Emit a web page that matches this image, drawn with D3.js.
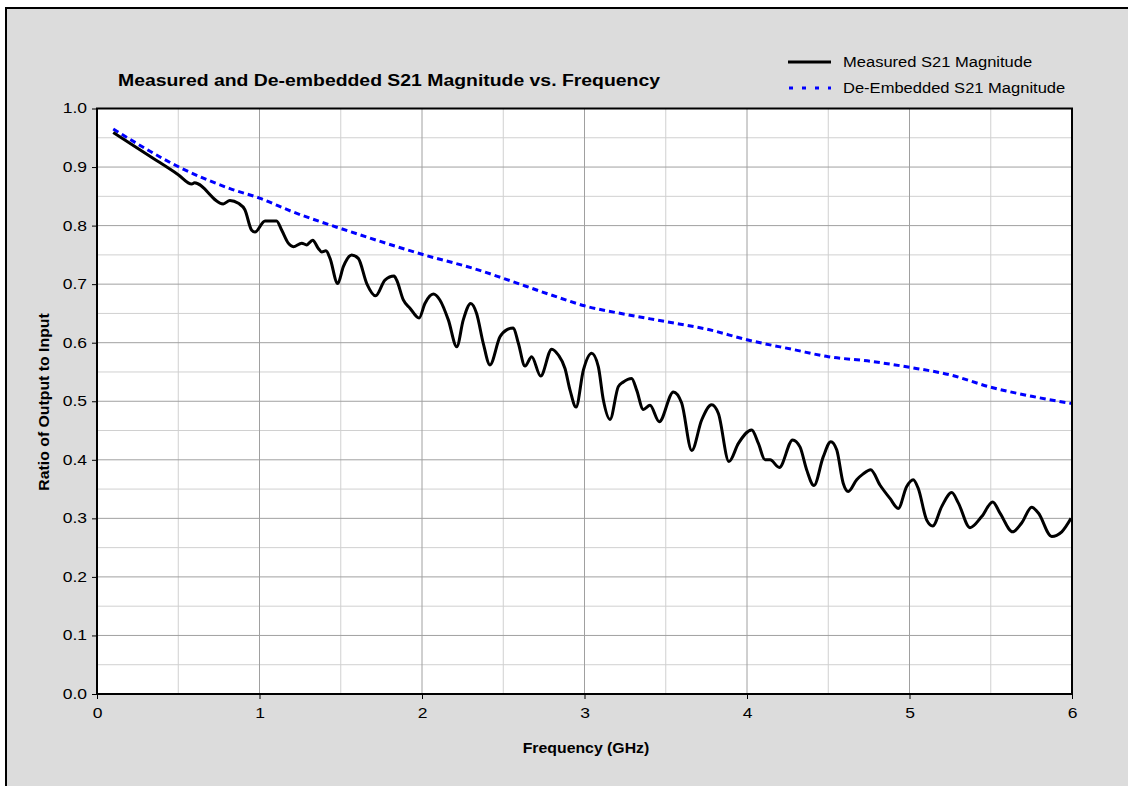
<!DOCTYPE html>
<html>
<head>
<meta charset="utf-8">
<script src="https://cdn.jsdelivr.net/npm/d3@7"></script>
<style>
  body { margin: 0; background: #fff; }
  svg text { font-family: "Liberation Sans", Arial, sans-serif; }
</style>
</head>
<body>
<svg id="svg" width="1128" height="786"></svg>
<script>
// measured S21 (GHz, ratio)
var measuredFreq = [0.10, 0.34, 0.50, 0.583, 0.60, 0.777, 0.818, 0.87, 0.91, 0.952, 0.972, 1.034, 1.105, 1.137, 1.177, 1.208,
  1.26, 1.29, 1.327, 1.362, 1.383, 1.409, 1.434, 1.481, 1.516, 1.567, 1.608, 1.66, 1.715, 1.772, 1.828, 1.844, 1.885,
  1.926, 1.982, 2.018, 2.07, 2.11, 2.162, 2.214, 2.254, 2.30, 2.336, 2.377, 2.418, 2.48, 2.521, 2.562, 2.593, 2.634,
  2.675, 2.73, 2.798, 2.839, 2.88, 2.911, 2.948, 2.993, 3.044, 3.085, 3.116, 3.157, 3.208, 3.239, 3.29, 3.321, 3.362,
  3.403, 3.46, 3.547, 3.598, 3.66, 3.721, 3.783, 3.824, 3.889, 3.947, 4.029, 4.07, 4.111, 4.142, 4.199, 4.281, 4.326,
  4.367, 4.412, 4.469, 4.516, 4.552, 4.592, 4.623, 4.675, 4.715, 4.761, 4.818, 4.88, 4.931, 4.982, 5.023, 5.054,
  5.106, 5.143, 5.198, 5.26, 5.301, 5.372, 5.444, 5.512, 5.557, 5.635, 5.69, 5.752, 5.793, 5.875, 5.937, 5.994];
var measuredMag = [0.959, 0.916, 0.887, 0.871, 0.873, 0.837, 0.843, 0.838, 0.827, 0.792, 0.789, 0.808, 0.808, 0.792, 0.770, 0.764,
  0.770, 0.767, 0.775, 0.761, 0.755, 0.757, 0.744, 0.701, 0.730, 0.750, 0.744, 0.701, 0.680, 0.707, 0.714, 0.707, 0.673,
  0.659, 0.642, 0.667, 0.683, 0.673, 0.639, 0.593, 0.639, 0.667, 0.650, 0.599, 0.562, 0.610, 0.622, 0.625, 0.599, 0.560,
  0.576, 0.543, 0.589, 0.579, 0.556, 0.519, 0.490, 0.553, 0.582, 0.559, 0.502, 0.469, 0.525, 0.533, 0.539, 0.519, 0.486,
  0.493, 0.465, 0.516, 0.497, 0.416, 0.468, 0.494, 0.479, 0.397, 0.428, 0.451, 0.428, 0.400, 0.400, 0.387, 0.434, 0.422,
  0.383, 0.356, 0.405, 0.431, 0.417, 0.360, 0.346, 0.366, 0.376, 0.383, 0.357, 0.334, 0.317, 0.354, 0.366, 0.351,
  0.297, 0.287, 0.320, 0.344, 0.326, 0.284, 0.303, 0.328, 0.309, 0.277, 0.292, 0.319, 0.309, 0.269, 0.277, 0.300];

// de-embedded S21
var deembFreq = [0.10, 0.52, 0.83, 1.0, 1.2, 1.37, 1.5, 2.0, 2.35, 2.5, 2.8, 3.0, 3.26, 3.5, 3.77, 4.0, 4.29, 4.5,
  4.74, 5.0, 5.25, 5.5, 5.76, 6.0];
var deembMag = [0.965, 0.898, 0.862, 0.847, 0.824, 0.807, 0.795, 0.751, 0.724, 0.710, 0.681, 0.663, 0.648, 0.636,
  0.622, 0.605, 0.588, 0.576, 0.569, 0.558, 0.545, 0.524, 0.508, 0.496];

var xTicks = [0, 1, 2, 3, 4, 5, 6];
var yTicks = [0, 0.1, 0.2, 0.3, 0.4, 0.5, 0.6, 0.7, 0.8, 0.9, 1.0];
var seriesNames = ['Measured S21 Magnitude', 'De-Embedded S21 Magnitude'];
var chartTitle = 'Measured and De-embedded S21 Magnitude vs. Frequency';

var CHART = (function() {
  let chart = {};
  let svg = d3.select('svg');

  let box = { left: 97, right: 1072, top: 108.5, bottom: 694 };

  let x = d3.scaleLinear().domain([0, 6]).range([box.left, box.right]);
  let y = d3.scaleLinear().domain([0, 1]).range([box.bottom, box.top]);

  // the reference font runs wider than Liberation Sans, so stretch glyphs
  function stretch(sel, factor) {
    sel.each(function() {
      let w = this.getComputedTextLength();
      d3.select(this).attr('textLength', w * factor).attr('lengthAdjust', 'spacingAndGlyphs');
    });
  }

  chart.init = function() {
    // gray chart area with black frame
    svg.append('rect').attr('x', 6).attr('y', 8).attr('width', 1140).attr('height', 800)
      .attr('fill', '#dcdcdc').attr('stroke', '#000').attr('stroke-width', 2);

    svg.append('rect').attr('x', box.left).attr('y', box.top)
      .attr('width', box.right - box.left).attr('height', box.bottom - box.top)
      .attr('fill', '#fff');

    // minor grid first, major on top
    let minorX = d3.range(0.5, 6, 1);
    let minorY = d3.range(0.05, 1, 0.1);
    let grid = svg.append('g');
    grid.selectAll('.mx').data(minorX).enter().append('line')
      .attr('x1', d => x(d)).attr('x2', d => x(d)).attr('y1', box.top).attr('y2', box.bottom)
      .attr('stroke', '#d0d0d0').attr('stroke-width', 1);
    grid.selectAll('.my').data(minorY).enter().append('line')
      .attr('y1', d => y(d)).attr('y2', d => y(d)).attr('x1', box.left).attr('x2', box.right)
      .attr('stroke', '#d0d0d0').attr('stroke-width', 1);
    grid.selectAll('.gx').data(xTicks.slice(1, -1)).enter().append('line')
      .attr('x1', d => x(d)).attr('x2', d => x(d)).attr('y1', box.top).attr('y2', box.bottom)
      .attr('stroke', '#a0a0a0').attr('stroke-width', 1);
    grid.selectAll('.gy').data(yTicks.slice(1, -1)).enter().append('line')
      .attr('y1', d => y(d)).attr('y2', d => y(d)).attr('x1', box.left).attr('x2', box.right)
      .attr('stroke', '#a0a0a0').attr('stroke-width', 1);

    let line = d3.line().x(d => x(d[0])).y(d => y(d[1])).curve(d3.curveMonotoneX);

    let deemb = deembFreq.map((f, i) => [f, deembMag[i]]);
    let meas = measuredFreq.map((f, i) => [f, measuredMag[i]]);

    svg.append('path').attr('d', line(deemb)).attr('fill', 'none')
      .attr('stroke', '#0000ff').attr('stroke-width', 3).attr('stroke-dasharray', '6,4');
    svg.append('path').attr('d', line(meas)).attr('fill', 'none')
      .attr('stroke', '#000').attr('stroke-width', 3).attr('stroke-linejoin', 'round');

    svg.append('rect').attr('x', box.left).attr('y', box.top)
      .attr('width', box.right - box.left).attr('height', box.bottom - box.top)
      .attr('fill', 'none').attr('stroke', '#000').attr('stroke-width', 2);

    // axes
    let xAxis = d3.axisBottom(x).tickValues(xTicks).tickFormat(d3.format('d')).tickSize(5).tickPadding(9);
    let yAxis = d3.axisLeft(y).tickValues(yTicks).tickFormat(d3.format('.1f')).tickSize(5).tickPadding(5);

    let gx = svg.append('g').attr('transform', 'translate(0,' + box.bottom + ')').call(xAxis);
    let gy = svg.append('g').attr('transform', 'translate(' + box.left + ',0)').call(yAxis);
    [gx, gy].forEach(function(g) {
      g.select('.domain').remove();
      g.selectAll('line').attr('stroke', '#000');
      g.selectAll('text').attr('font-size', 14).attr('fill', '#000')
        .style('font-family', '"Liberation Sans", Arial, sans-serif');
      stretch(g.selectAll('text'), 1.25);
    });

    let xt = svg.append('text').attr('x', 586).attr('y', 753).attr('text-anchor', 'middle')
      .attr('font-size', 14).attr('font-weight', 'bold').text('Frequency (GHz)');
    stretch(xt, 1.13);
    let yt = svg.append('text').attr('transform', 'translate(49,402) rotate(-90)').attr('text-anchor', 'middle')
      .attr('font-size', 14).attr('font-weight', 'bold').text('Ratio of Output to Input');
    stretch(yt, 1.13);

    let tt = svg.append('text').attr('x', 118).attr('y', 86)
      .attr('font-size', 16).attr('font-weight', 'bold').text(chartTitle);
    stretch(tt, 542 / tt.node().getComputedTextLength());

    // legend
    let leg = svg.append('g');
    leg.append('line').attr('x1', 788).attr('x2', 831).attr('y1', 62).attr('y2', 62)
      .attr('stroke', '#000').attr('stroke-width', 3);
    leg.append('line').attr('x1', 789).attr('x2', 831).attr('y1', 88).attr('y2', 88)
      .attr('stroke', '#0000ff').attr('stroke-width', 3).attr('stroke-dasharray', '4,9');
    let lt = leg.selectAll('.lt').data(seriesNames).enter().append('text')
      .attr('x', 843).attr('y', (d, i) => 67 + i * 26)
      .attr('font-size', 14).text(d => d);
    stretch(lt, 1.18);
  };

  return chart;
})();

CHART.init();
</script>
</body>
</html>
